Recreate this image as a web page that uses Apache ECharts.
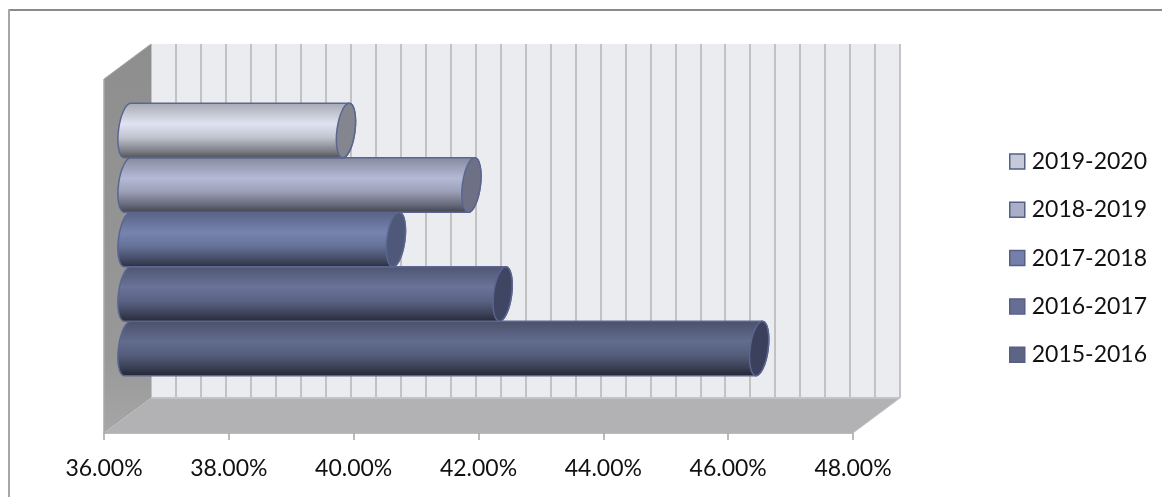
<!DOCTYPE html>
<html><head><meta charset="utf-8">
<style>html,body{margin:0;padding:0;background:#fff}#c{width:1162px;height:497px}</style>
<script src="https://cdn.jsdelivr.net/npm/echarts@6/dist/echarts.min.js"></script>
</head><body><div id="c"></div>
<script>
const periods = ['2015-2016','2016-2017','2017-2018','2018-2019','2019-2020'];
const values = [46.12, 42.01, 40.30, 41.51, 39.50];
const highlight = ['#626c8f','#6a7399','#7684b0','#b4b9d5','#e0e3f1'];
const capColors = ['#3b415d','#3f4663','#4f5878','#6e7086','#83868f'];
const legendFill = ['#5d6585','#666e96','#7480ab','#aaaec6','#c6cad8'];
const axisMin = 36, axisMax = 48, major = 2, minor = 0.4;
const font = 'Lato, "Open Sans", sans-serif';

const L = 104, R = 853, T = 79, B = 433, DX = 47, DY = 35;
const chart = echarts.init(document.getElementById('c'), null, {renderer:'canvas'});

function shade(hex, f){
  const n = parseInt(hex.slice(1),16);
  const c = [n>>16&255, n>>8&255, n&255].map(v=>Math.round(v*f));
  return 'rgb('+c.join(',')+')';
}
function wallItem(params, api){
  const p0 = api.coord([axisMin, 0]);
  const band = api.size([0,1])[1];
  const x0 = p0[0], x1 = api.coord([axisMax,0])[0];
  const top = p0[1]-band/2, bot = p0[1]+band/2;
  return {type:'group', children:[
    {type:'polygon', shape:{points:[[x0,top],[x0+DX,top-DY],[x0+DX,bot-DY],[x0,bot]]},
     style:{fill:new echarts.graphic.LinearGradient(0,0,0,1,[{offset:0,color:'#8e8e8e'},{offset:0.8,color:'#989898'},{offset:1,color:'#a6a6a6'}]),stroke:null}},
    {type:'polygon', shape:{points:[[x0,bot],[x1,bot],[x1+DX,bot-DY],[x0+DX,bot-DY]]},
     style:{fill:'#b2b2b4',stroke:null}},
    {type:'line', shape:{x1:x0,y1:top,x2:x0,y2:bot}, style:{stroke:'#a9a9a9',lineWidth:1.5}},
    {type:'line', shape:{x1:x0,y1:top,x2:x0+DX,y2:top-DY}, style:{stroke:'#a9a9a9',lineWidth:1}},
    {type:'line', shape:{x1:x1,y1:bot,x2:x1+DX,y2:bot-DY}, style:{stroke:'#c4c4c4',lineWidth:1}},
    {type:'line', shape:{x1:x0+DX,y1:bot-DY,x2:x1+DX,y2:bot-DY}, style:{stroke:'#c4c4c4',lineWidth:2}},
    {type:'line', shape:{x1:x1+DX,y1:top-DY,x2:x1+DX,y2:bot-DY}, style:{stroke:'#c4c4c4',lineWidth:2}}
  ]};
}
function cylinder(i){
  return function(params, api){
    const band = api.size([0,1])[1];
    const h = band/(periods.length+1.5);
    const start = api.coord([axisMin,0]), end = api.coord([api.value(0),0]);
    const cy = start[1]-DY/2+1+(2-i)*h;
    const xl = start[0]+DX/2, xr = end[0]+DX/2;
    const lean = h*0.065, rx = 9, ry = Math.hypot(lean,h/2);
    const rot = (Math.atan2(lean,h/2)*180/Math.PI).toFixed(2);
    const y0 = cy-h/2, y1 = cy+h/2;
    const arc = (x,y)=>`A ${rx} ${ry} ${rot} 0 1 ${x} ${y}`;
    const body = `M ${xl+lean} ${y0} L ${xr+lean} ${y0} ${arc(xr-lean,y1)} L ${xl-lean} ${y1} ${arc(xl+lean,y0)} Z`;
    const cap = `M ${xr+lean} ${y0} ${arc(xr-lean,y1)} ${arc(xr+lean,y0)} Z`;
    const c = highlight[i];
    const grad = new echarts.graphic.LinearGradient(0,0,0,1,[
      {offset:0,color:shade(c,0.74)},{offset:0.38,color:c},{offset:0.62,color:shade(c,0.86)},
      {offset:0.86,color:shade(c,0.56)},{offset:1,color:shade(c,0.34)}]);
    return {type:'group', children:[
      {type:'path', shape:{pathData:body}, style:{fill:grad,stroke:'#5b6690',lineWidth:1.5}},
      {type:'path', shape:{pathData:cap}, style:{fill:capColors[i],stroke:'#5b6690',lineWidth:1.5}}
    ]};
  };
}
const series = [{
  type:'custom', name:'walls', silent:true, z:1, xAxisIndex:0, yAxisIndex:0, clip:false,
  data:[[axisMin,0]], renderItem:wallItem, encode:{x:0,y:1}
}];
periods.forEach((p,i)=>series.push({
  type:'custom', name:p, silent:true, z:2+i, xAxisIndex:0, yAxisIndex:0, clip:false,
  itemStyle:{color:legendFill[i]},
  data:[[values[i],0]], renderItem:cylinder(i), encode:{x:0,y:1}
}));
chart.setOption({
  animation:false, backgroundColor:'#fff',
  graphic:[
    {type:'line',silent:true,z:-1,shape:{x1:9,y1:10,x2:1162,y2:10},style:{stroke:'#8a8a8a',lineWidth:2}},
    {type:'line',silent:true,z:-1,shape:{x1:9,y1:9,x2:9,y2:497},style:{stroke:'#a6a6a6',lineWidth:2}}
  ],
  legend:{orient:'vertical',left:1004,top:145,itemWidth:15,itemHeight:15,itemGap:25.3,selectedMode:false,icon:'rect',
    textStyle:{fontFamily:font,fontSize:23,color:'#111',padding:[0,0,0,2]},
    data:periods.map((p,i)=>({name:p,icon:'rect',itemStyle:{color:legendFill[i],borderColor:'#565f85',borderWidth:1.5}})).reverse()},
  grid:[
    {left:L,width:R-L,top:T,height:B-T,containLabel:false},
    {left:L+DX,width:R-L,top:T-DY,height:B-T,show:true,backgroundColor:'#ebecf0',borderWidth:0}
  ],
  xAxis:[
    {type:'value',gridIndex:0,min:axisMin,max:axisMax,interval:major,
     axisLine:{show:true,onZero:false,lineStyle:{color:'#a6a6a6',width:1.5}},
     axisTick:{show:true,length:7,lineStyle:{color:'#a6a6a6',width:1.5}},
     axisLabel:{fontFamily:font,fontSize:23,color:'#111',margin:24,formatter:v=>v.toFixed(2)+'%',hideOverlap:false,showMinLabel:true,showMaxLabel:true},
     splitLine:{show:false}},
    {type:'value',gridIndex:1,min:axisMin,max:axisMax,interval:minor,
     axisLine:{show:false},axisTick:{show:false},axisLabel:{show:false},
     splitLine:{show:true,lineStyle:{color:'#c2c2c2',width:2}}}
  ],
  yAxis:[
    {type:'category',gridIndex:0,data:[''],axisLine:{show:false},axisTick:{show:false},axisLabel:{show:false}},
    {type:'value',gridIndex:1,min:0,max:1,axisLine:{show:false},axisTick:{show:false},axisLabel:{show:false},splitLine:{show:false}}
  ],
  series
});
</script></body></html>
